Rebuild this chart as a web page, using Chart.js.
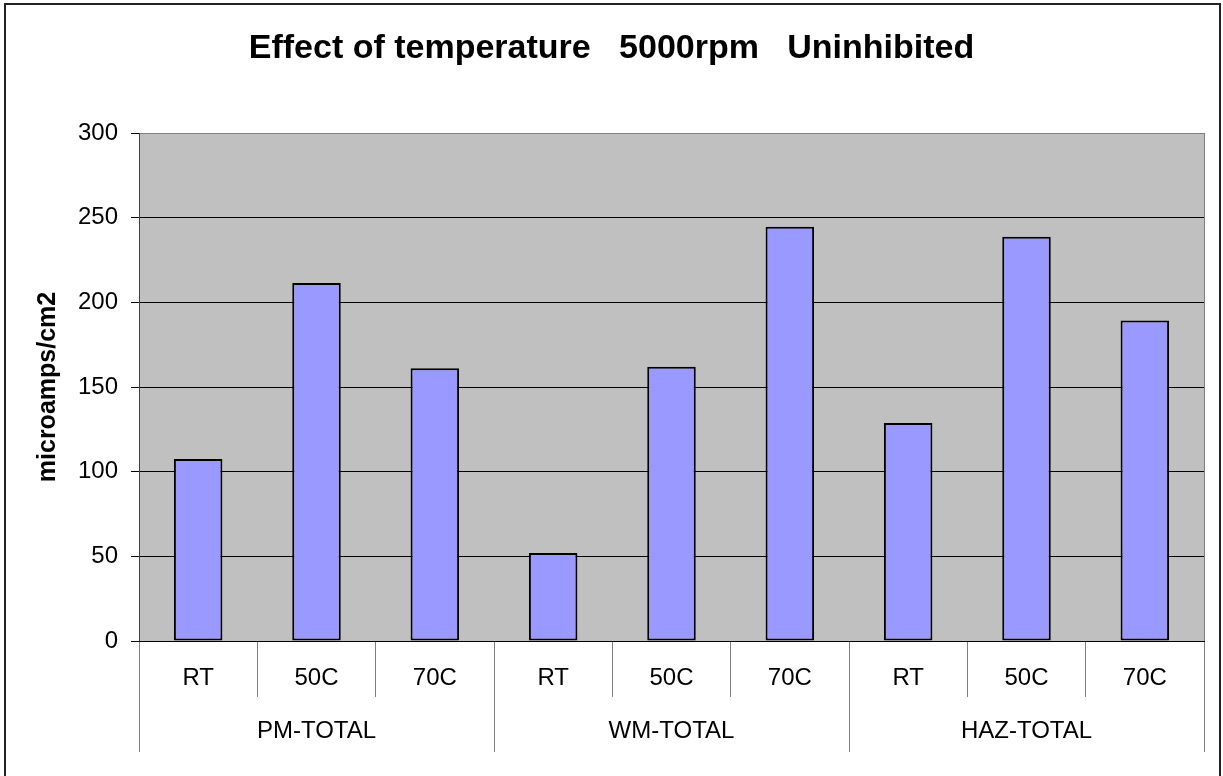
<!DOCTYPE html>
<html>
<head>
<meta charset="utf-8">
<title>Effect of temperature 5000rpm Uninhibited</title>
<script src="https://cdn.jsdelivr.net/npm/chart.js@4.4.1/dist/chart.umd.min.js"></script>
<style>
  html, body { margin: 0; padding: 0; background: #fff; }
  #wrap { width: 1223px; height: 776px; position: relative; }
</style>
</head>
<body>
<div id="wrap"><canvas id="tempChart"></canvas></div>
<script>
'use strict';

// ── Data ──────────────────────────────────────
const groups = ['PM-TOTAL', 'WM-TOTAL', 'HAZ-TOTAL'];
const temps  = ['RT', '50C', '70C'];
const pmVals  = [107.5, 211.4, 161.0];
const wmVals  = [52.0, 162.0, 244.7];
const hazVals = [128.8, 238.8, 189.2];
const yTicks  = [0, 50, 100, 150, 200, 250, 300];

const labels = groups.flatMap(() => temps);
const values = [...pmVals, ...wmVals, ...hazVals];

const FONT = "'Liberation Sans', Arial, sans-serif";

// grey plot background + right edge of the plot frame
const plotBg = {
  id: 'plotBg',
  beforeDraw(chart) {
    const { ctx, chartArea: a } = chart;
    ctx.save();
    ctx.fillStyle = '#C0C0C0';
    ctx.fillRect(a.left, a.top, a.right - a.left, a.bottom - a.top);
    ctx.strokeStyle = '#808080';
    ctx.lineWidth = 1;
    ctx.beginPath();
    ctx.moveTo(Math.round(a.right) + 0.5, a.top);
    ctx.lineTo(Math.round(a.right) + 0.5, a.bottom);
    ctx.stroke();
    ctx.restore();
  }
};

// outer chart frame (bottom edge runs off the page)
const frame = {
  id: 'frame',
  afterDraw(chart) {
    const { ctx } = chart;
    ctx.save();
    ctx.strokeStyle = '#222';
    ctx.lineWidth = 2;
    ctx.beginPath();
    ctx.moveTo(5, 800);
    ctx.lineTo(5, 4);
    ctx.lineTo(1220, 4);
    ctx.lineTo(1220, 800);
    ctx.stroke();
    ctx.restore();
  }
};

new Chart(document.getElementById('tempChart'), {
  type: 'bar',
  data: {
    labels: labels,
    datasets: [{
      label: 'microamps/cm2',
      data: values,
      backgroundColor: '#9999FF',
      borderColor: '#000',
      borderWidth: 2,
      borderSkipped: false,
      barPercentage: 0.41,
      categoryPercentage: 1
    }]
  },
  options: {
    responsive: true, maintainAspectRatio: false, animation: false,
    layout: { padding: { left: 19, right: 19, top: 0, bottom: 0 } },
    plugins: {
      legend: { display: false },
      tooltip: { enabled: false },
      title: {
        display: true,
        text: 'Effect of temperature   5000rpm   Uninhibited',
        color: '#000',
        font: { family: FONT, size: 34, weight: 'bold' },
        padding: { top: 28, bottom: 64.2 }
      }
    },
    scales: {
      y: {
        min: 0, max: 300,
        afterFit: s => { s.width = 120; },
        afterBuildTicks: s => { s.ticks = yTicks.map(v => ({ value: v })); },
        grid: {
          color: c => (c.tick && c.tick.value === 300 ? '#808080' : '#000'),
          tickColor: '#000',
          tickLength: 8,
          lineWidth: 1
        },
        border: { color: '#404040', width: 1 },
        ticks: { color: '#000', padding: 13, font: { family: FONT, size: 24 } },
        title: {
          display: true,
          text: 'microamps/cm2',
          color: '#000',
          font: { family: FONT, size: 25, weight: 'bold' },
          padding: { top: 14 }
        }
      },
      x: {
        weight: 0,
        afterFit: s => { s.height = 56; },
        grid: {
          offset: true,
          drawOnChartArea: false,
          tickLength: 56,
          color: '#7F7F7F'
        },
        border: { color: '#000', width: 1 },
        ticks: { color: '#000', padding: -33, maxRotation: 0, font: { family: FONT, size: 24 } }
      },
      x2: {
        type: 'category',
        position: 'bottom',
        weight: 1,
        labels: groups,
        offset: true,
        afterFit: s => { s.height = 79; },
        grid: {
          offset: true,
          drawOnChartArea: false,
          tickLength: 55,
          color: '#7F7F7F'
        },
        border: { display: false },
        ticks: { color: '#000', padding: -35, maxRotation: 0, font: { family: FONT, size: 24 } }
      }
    }
  },
  plugins: [plotBg, frame]
});
</script>
</body>
</html>
